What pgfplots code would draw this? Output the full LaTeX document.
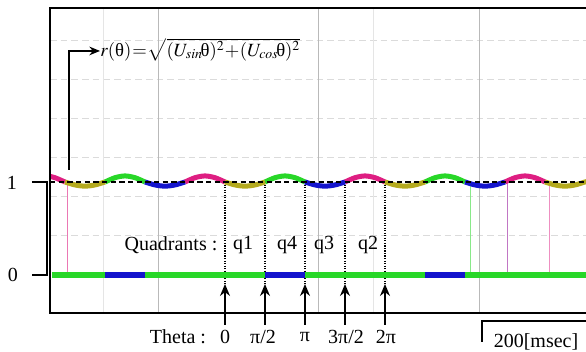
\documentclass[border=0pt]{standalone}
\usepackage{mathptmx}
\usepackage{fontspec}
\setmainfont{Liberation Serif}
\usepackage{pgfplots}
\pgfplotsset{compat=1.18}
\usetikzlibrary{arrows.meta}
\definecolor{tmag}{RGB}{222,30,130}
\definecolor{tyel}{RGB}{180,170,30}
\definecolor{tgrn}{RGB}{40,215,40}
\definecolor{tblu}{RGB}{20,20,205}
\newcommand{\uth}{\mbox{θ}}
\begin{document}
\begin{tikzpicture}[font=\fontsize{15}{18}\selectfont]
\begin{axis}[
  scale only axis, width=402pt, height=228.75pt,
  xmin=50, xmax=586, ymin=-0.409, ymax=2.871,
  axis line style={draw=none}, ticks=none, clip=false,
  unbounded coords=jump,
]
% grid
\foreach \yy in {2.527,2.108,1.688,1.269,0.849,0.430}{
  \edef\tmp{\noexpand\draw[gray!28, line width=0.6pt, dash pattern=on 5pt off 3pt] (axis cs:50,\yy) -- (axis cs:586,\yy);}\tmp
}
\foreach \xx in {158,318,479}{
  \edef\tmp{\noexpand\draw[gray!55, line width=0.7pt] (axis cs:\xx,-0.409) -- (axis cs:\xx,2.871);}\tmp
}
\foreach \xx in {103,373}{
  \edef\tmp{\noexpand\draw[gray!20, line width=0.6pt] (axis cs:\xx,-0.409) -- (axis cs:\xx,2.871);}\tmp
}
% thin coloured verticals
\addplot[tmag!60, line width=0.7pt] coordinates {(67,1) (67,0)};
\addplot[tgrn!55, line width=0.6pt] coordinates {(470,1) (470,0)};
\addplot[tblu!35!tmag!60, line width=0.6pt] coordinates {(507,1) (507,0)};
\addplot[tmag!50, line width=0.6pt] coordinates {(549,1) (549,0)};
% dotted verticals at theta marks
\addplot[black, densely dotted, line width=0.9pt] coordinates {
 (225,1) (225,-0.1) (225,nan)
 (265,1) (265,-0.1) (265,nan)
 (305,1) (305,-0.1) (305,nan)
 (345,1) (345,-0.1) (345,nan)
 (385,1) (385,-0.1)};
% bottom bar (quadrant indicator)
\addplot[tgrn, line width=5pt] coordinates {(52,0) (586,0)};
\addplot[tblu, line width=5pt] coordinates {(105,0) (145,0) (145,nan) (265,0) (305,0) (305,nan) (425,0) (465,0)};
% r(theta) trace
\addplot[tmag, line width=3.75pt, smooth, line cap=butt] coordinates {
 (50,1.060) (55,1.046) (65,1) (65,nan)
 (185,1) (195,1.046) (205,1.065) (215,1.046) (225,1) (225,nan)
 (345,1) (355,1.046) (365,1.065) (375,1.046) (385,1) (385,nan)
 (505,1) (515,1.046) (525,1.065) (535,1.046) (545,1)};
\addplot[tgrn, line width=3.75pt, smooth, line cap=butt] coordinates {
 (105,1) (115,1.046) (125,1.065) (135,1.046) (145,1) (145,nan)
 (265,1) (275,1.046) (285,1.065) (295,1.046) (305,1) (305,nan)
 (425,1) (435,1.046) (445,1.065) (455,1.046) (465,1)};
\addplot[tyel, line width=3.75pt, smooth, line cap=butt] coordinates {
 (65,1) (75,0.968) (85,0.955) (95,0.968) (105,1) (105,nan)
 (225,1) (235,0.968) (245,0.955) (255,0.968) (265,1) (265,nan)
 (385,1) (395,0.968) (405,0.955) (415,0.968) (425,1) (425,nan)
 (545,1) (555,0.968) (565,0.955) (575,0.968) (585,1) (586,1.002)};
\addplot[tblu, line width=3.75pt, smooth, line cap=butt] coordinates {
 (145,1) (155,0.968) (165,0.955) (175,0.968) (185,1) (185,nan)
 (305,1) (315,0.968) (325,0.955) (335,0.968) (345,1) (345,nan)
 (465,1) (475,0.968) (485,0.955) (495,0.968) (505,1)};
% reference level 1
\addplot[black, line width=1.6pt, dash pattern=on 4pt off 2.5pt] coordinates {(50,1) (586,1)};
% arrows at theta marks
\addplot[black, line width=1.1pt, -{Stealth[length=9pt,width=7.5pt]}] coordinates {(225,-0.538) (225,-0.097)};
\addplot[black, line width=1.1pt, -{Stealth[length=9pt,width=7.5pt]}] coordinates {(265,-0.538) (265,-0.097)};
\addplot[black, line width=1.1pt, -{Stealth[length=9pt,width=7.5pt]}] coordinates {(305,-0.538) (305,-0.097)};
\addplot[black, line width=1.1pt, -{Stealth[length=9pt,width=7.5pt]}] coordinates {(345,-0.538) (345,-0.097)};
\addplot[black, line width=1.1pt, -{Stealth[length=9pt,width=7.5pt]}] coordinates {(385,-0.538) (385,-0.097)};
% frame
\draw[black, line width=1.5pt] (axis cs:586,2.871) -- (axis cs:50,2.871) -- (axis cs:50,-0.409) -- (axis cs:586,-0.409);
% left bracket and levels
\draw[black, line width=1.1pt] (axis cs:32,1) -- (axis cs:47,1) -- (axis cs:47,0) -- (axis cs:32,0);
\node at (axis cs:12,0.99) {1};
\node at (axis cs:13,0) {0};
% formula arrow
\draw[black, line width=1.1pt, -{Stealth[length=8pt,width=6.5pt]}] (axis cs:69,1.129) -- (axis cs:69,2.409) -- (axis cs:100,2.409);
\node[anchor=west, inner sep=0pt, font=\fontsize{14}{17}\selectfont] at (axis cs:100,2.42)
  {\thickmuskip=1mu\medmuskip=0.5mu$r(\uth)=\sqrt{(U_{sin}\!\uth)^2+(U_{cos}\!\uth)^2}$};
% quadrants
\node at (axis cs:171,0.323) {Quadrants :};
\node at (axis cs:243,0.323) {q1};
\node at (axis cs:287,0.323) {q4};
\node at (axis cs:324,0.323) {q3};
\node at (axis cs:368,0.323) {q2};
% theta labels
\node at (axis cs:178,-0.667) {Theta :};
\node at (axis cs:225,-0.667) {0};
\node at (axis cs:263,-0.667) {π/2};
\node at (axis cs:305,-0.667) {π};
\node at (axis cs:346,-0.667) {3π/2};
\node at (axis cs:386,-0.667) {2π};
% time scale
\draw[black, line width=0.9pt] (axis cs:482,-0.72) -- (axis cs:482,-0.495) -- (axis cs:586,-0.495);
\node at (axis cs:536,-0.72) {200[msec]};
\coordinate (bbA) at (axis cs:0,-0.828);
\coordinate (bbB) at (axis cs:586,2.957);
\end{axis}
\pgfresetboundingbox
\path[use as bounding box] (bbA) rectangle (bbB);
\end{tikzpicture}
\end{document}
